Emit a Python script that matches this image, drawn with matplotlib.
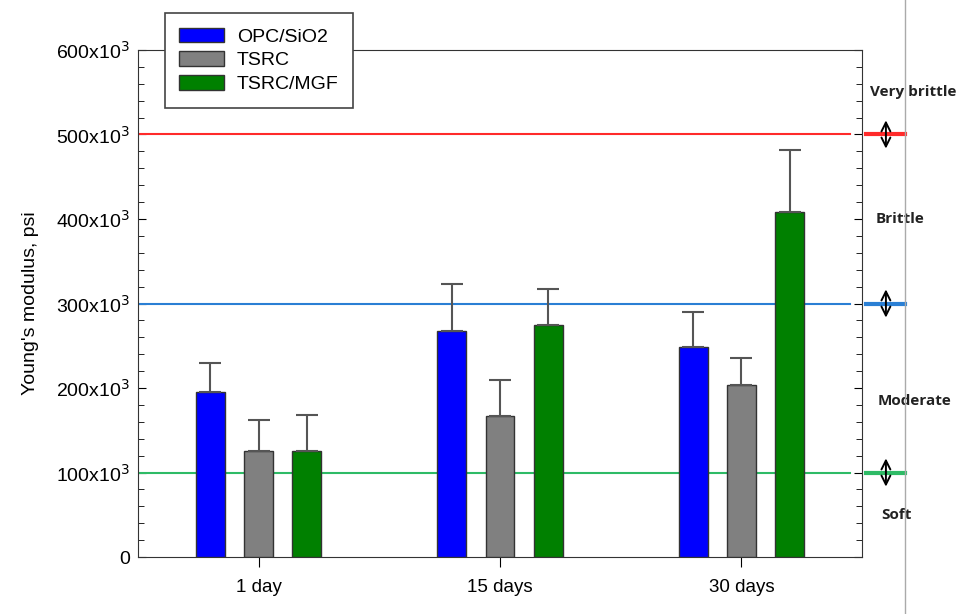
import numpy as np
import matplotlib.pyplot as plt
from matplotlib.lines import Line2D
from matplotlib.transforms import blended_transform_factory
from matplotlib.ticker import MultipleLocator, FuncFormatter

plt.rcParams['font.family'] = ['Liberation Sans', 'DejaVu Sans']

ages = ['1 day', '15 days', '30 days']
series = ['OPC/SiO2', 'TSRC', 'TSRC/MGF']
colors = ['#0000ff', '#808080', '#008000']
modulus = [
    [195e3, 267e3, 248e3],
    [125e3, 167e3, 203e3],
    [125e3, 275e3, 408e3],
]
upper_err = [
    [35e3, 56e3, 42e3],
    [37e3, 42e3, 33e3],
    [43e3, 42e3, 74e3],
]

# brittleness class limits and labels
limits = [500e3, 300e3, 100e3]
limit_colors = ['#ff2a2a', '#2a7fd4', '#2ebb66']
classes = ['Very brittle', 'Brittle', 'Moderate', 'Soft']
class_y = [550e3, 400e3, 185e3, 50e3]
class_x = [1.071, 1.052, 1.072, 1.048]

fig = plt.figure(figsize=(9.61, 6.14), dpi=100)
ax = fig.add_axes([0.1436, 0.0928, 0.7534, 0.8258])

x = np.arange(len(ages))
width = 0.12
step = 0.2
for i, (name, c) in enumerate(zip(series, colors)):
    ax.bar(x + (i - 1) * step, modulus[i], width, color=c, edgecolor='#333333',
           linewidth=1, label=name, zorder=3,
           yerr=[np.zeros(3), upper_err[i]], capsize=8,
           error_kw=dict(ecolor='#555555', elinewidth=1.5, capthick=1.5))

trans = blended_transform_factory(ax.transAxes, ax.transData)
for y, c in zip(limits, limit_colors):
    ax.plot([0, 0.983], [y, y], color=c, lw=1.5, zorder=2, transform=trans)
    ax.plot([1.006, 1.06], [y, y], color=c, lw=3, transform=trans, clip_on=False)
    ax.annotate('', xy=(1.033, y - 20e3), xytext=(1.033, y + 20e3), xycoords=trans,
                arrowprops=dict(arrowstyle='<->', color='black', lw=1.4,
                                mutation_scale=16))

for label, y, dx in zip(classes, class_y, class_x):
    ax.text(dx, y, label, transform=trans, ha='center', va='center',
            fontsize=11, fontweight='bold', family=['Open Sans', 'DejaVu Sans'],
            color='#222222')

fig.add_artist(Line2D([905 / 961, 905 / 961], [0, 1], color='#aaaaaa', lw=1))

ax.set_xlim(-0.5, 2.5)
ax.set_ylim(0, 600e3)
ax.set_xticks(x)
ax.set_xticklabels(ages, fontsize=13.5)
ax.yaxis.set_major_locator(MultipleLocator(100e3))
ax.yaxis.set_minor_locator(MultipleLocator(20e3))
ax.yaxis.set_major_formatter(FuncFormatter(
    lambda v, p: '0' if v == 0 else r'%dx10$^{3}$' % round(v / 1e3)))
ax.tick_params(axis='y', which='both', direction='in', right=True, labelsize=14)
ax.tick_params(axis='y', which='major', length=6, pad=6)
ax.tick_params(axis='y', which='minor', length=4)
ax.tick_params(axis='x', direction='out', length=7, pad=9)
ax.set_ylabel("Young's modulus, psi", fontsize=14, labelpad=12)
for s in ax.spines.values():
    s.set_color('#333333')

leg = ax.legend(loc='upper left', bbox_to_anchor=(0.037, 1.073), fontsize=14,
                frameon=True, fancybox=False, edgecolor='#444444',
                handlelength=2.3, handleheight=0.77, handletextpad=0.65,
                borderpad=0.75, labelspacing=0.3, framealpha=1,
                borderaxespad=0)
leg.get_frame().set_linewidth(1.2)
leg.set_zorder(5)

fig.savefig('out.png', dpi=100)
